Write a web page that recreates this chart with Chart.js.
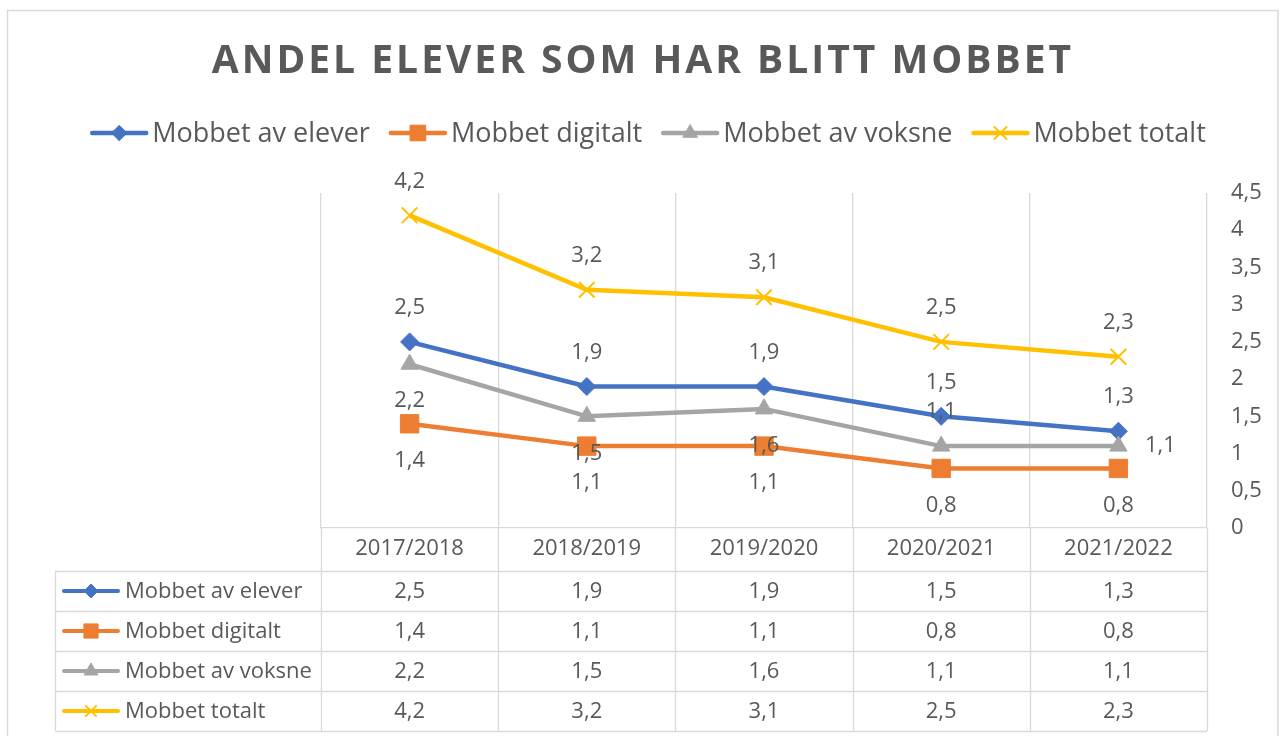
<!DOCTYPE html>
<html>
<head>
<meta charset="utf-8">
<script src="https://cdn.jsdelivr.net/npm/chart.js@4.4.0/dist/chart.umd.min.js"></script>
<style>
  html, body { margin: 0; padding: 0; background: #fff; }
  #wrap { position: relative; width: 1280px; height: 736px; }
</style>
</head>
<body>
<div id="wrap"><canvas id="chart" width="1280" height="736"></canvas></div>
<script>
// Data
const chartTitle = 'ANDEL ELEVER SOM HAR BLITT MOBBET';
const categories = ['2017/2018', '2018/2019', '2019/2020', '2020/2021', '2021/2022'];
const seriesNames = ['Mobbet av elever', 'Mobbet digitalt', 'Mobbet av voksne', 'Mobbet totalt'];
const mobbetAvElever = [2.5, 1.9, 1.9, 1.5, 1.3];
const mobbetDigitalt = [1.4, 1.1, 1.1, 0.8, 0.8];
const mobbetAvVoksne = [2.2, 1.5, 1.6, 1.1, 1.1];
const mobbetTotalt = [4.2, 3.2, 3.1, 2.5, 2.3];

// Styles
const FONT = '"Open Sans", "Liberation Sans", sans-serif';
const TEXT = '#595959';
const GRID = '#d9d9d9';
const colors = ['#4472C4', '#ED7D31', '#A5A5A5', '#FFC000'];
const markers = ['rectRot', 'rect', 'triangle', 'crossRot'];
const markerRadius = [9, 13, 10, 11];
const smallRadius = [7, 10, 8, 8];
// where each data label sits relative to its point
const labelPos = [
    ['above', 'above', 'above', 'above', 'above'],
    ['below', 'below', 'below', 'below', 'below'],
    ['below', 'below', 'below', 'above', 'right'],
    ['above', 'above', 'above', 'above', 'above']
];

const fmt = v => String(v).replace('.', ',');
const allSeries = [mobbetAvElever, mobbetDigitalt, mobbetAvVoksne, mobbetTotalt];

function drawMarker(ctx, i, x, y, radius) {
    ctx.save();
    ctx.fillStyle = colors[i];
    ctx.strokeStyle = colors[i];
    ctx.lineWidth = markers[i] === 'crossRot' ? 2 : 1;
    Chart.helpers.drawPoint(ctx, { pointStyle: markers[i], radius: radius, rotation: 0, borderWidth: ctx.lineWidth }, x, y);
    ctx.restore();
}

function drawLegendIcon(ctx, i, x, y, w, lw, r) {
    ctx.save();
    ctx.strokeStyle = colors[i];
    ctx.lineWidth = lw;
    ctx.lineCap = 'round';
    ctx.beginPath();
    ctx.moveTo(x + 2, y);
    ctx.lineTo(x + w - 2, y);
    ctx.stroke();
    ctx.restore();
    drawMarker(ctx, i, x + w / 2, y, r);
}

const decorPlugin = {
    id: 'decor',
    beforeDraw(chart) {
        const ctx = chart.ctx;
        ctx.save();
        ctx.fillStyle = '#fff';
        ctx.fillRect(0, 0, chart.width, chart.height);
        ctx.strokeStyle = GRID;
        ctx.lineWidth = 1.5;
        ctx.strokeRect(7.5, 10.5, 1270.5, 740);
        ctx.restore();
    },
    afterDatasetsDraw(chart) {
        const ctx = chart.ctx;
        ctx.save();
        ctx.font = '22px ' + FONT;
        ctx.fillStyle = TEXT;
        ctx.textAlign = 'center';
        ctx.textBaseline = 'middle';
        chart.data.datasets.forEach((ds, i) => {
            const meta = chart.getDatasetMeta(i);
            meta.data.forEach((pt, j) => {
                const pos = labelPos[i][j];
                let x = pt.x, y = pt.y;
                if (pos === 'above') y -= 34;
                else if (pos === 'below') y += 37;
                else if (pos === 'right') x += 42;
                ctx.fillText(fmt(ds.data[j]), x, y);
            });
        });
        ctx.restore();
    },
    afterDraw(chart) {
        const ctx = chart.ctx;
        const area = chart.chartArea;
        const xs = chart.scales.x;

        // title
        ctx.save();
        ctx.font = 'bold 39px ' + FONT;
        ctx.fillStyle = TEXT;
        ctx.textBaseline = 'middle';
        ctx.letterSpacing = '3px';
        const tw = ctx.measureText(chartTitle).width;
        ctx.textAlign = 'left';
        ctx.fillText(chartTitle, 643 - tw / 2, 62);
        ctx.restore();

        // legend
        ctx.save();
        ctx.font = '27px ' + FONT;
        ctx.fillStyle = TEXT;
        ctx.textBaseline = 'middle';
        const lineW = 58, gapText = 4, gapItem = 19;
        const widths = seriesNames.map(n => ctx.measureText(n).width);
        const total = widths.reduce((a, b) => a + b, 0) + seriesNames.length * (lineW + gapText) + gapItem * (seriesNames.length - 1);
        let lx = 648 - total / 2;
        const ly = 133;
        seriesNames.forEach((n, i) => {
            drawLegendIcon(ctx, i, lx, ly, lineW, 4.5, markerRadius[i] * 0.85);
            ctx.fillStyle = TEXT;
            ctx.fillText(n, lx + lineW + gapText, ly + 1);
            lx += lineW + gapText + widths[i] + gapItem;
        });
        ctx.restore();

        // data table
        const rowTop = 571, rowH = 40, tableLeft = 55.5;
        const step = (area.right - area.left) / categories.length;
        const tableBottom = rowTop + rowH * allSeries.length;
        ctx.save();
        ctx.strokeStyle = GRID;
        ctx.lineWidth = 1.3;
        ctx.beginPath();
        for (let c = 0; c <= categories.length; c++) {
            const x = Math.round(area.left + c * step) + 0.5;
            ctx.moveTo(x, area.bottom);
            ctx.lineTo(x, tableBottom);
        }
        ctx.moveTo(tableLeft, rowTop);
        ctx.lineTo(tableLeft, tableBottom);
        for (let r = 0; r <= allSeries.length; r++) {
            const y = rowTop + r * rowH + 0.5;
            ctx.moveTo(tableLeft, y);
            ctx.lineTo(area.right, y);
        }
        ctx.stroke();

        ctx.font = '22px ' + FONT;
        ctx.fillStyle = TEXT;
        ctx.textBaseline = 'middle';
        allSeries.forEach((vals, r) => {
            const cy = rowTop + r * rowH + rowH / 2;
            drawLegendIcon(ctx, r, 62, cy, 58, 4, smallRadius[r]);
            ctx.fillStyle = TEXT;
            ctx.textAlign = 'left';
            ctx.fillText(seriesNames[r], 125, cy + 1);
            ctx.textAlign = 'center';
            vals.forEach((v, c) => {
                ctx.fillText(fmt(v), xs.getPixelForValue(c), cy + 1);
            });
        });
        ctx.restore();
    }
};

const ctx = document.getElementById('chart').getContext('2d');
new Chart(ctx, {
    type: 'line',
    data: {
        labels: categories,
        datasets: allSeries.map((d, i) => ({
            label: seriesNames[i],
            data: d,
            borderColor: colors[i],
            backgroundColor: colors[i],
            borderWidth: 4.5,
            pointStyle: markers[i],
            pointRadius: markerRadius[i],
            pointHoverRadius: markerRadius[i],
            pointBorderWidth: i === 3 ? 2 : 1,
            tension: 0,
            order: 3 - i
        }))
    },
    options: {
        responsive: false,
        animation: false,
        layout: { padding: { top: 193, left: 321, right: 0, bottom: 166 } },
        plugins: {
            legend: { display: false },
            title: { display: false },
            tooltip: { enabled: false }
        },
        scales: {
            x: {
                offset: true,
                grid: { offset: true, color: GRID, lineWidth: 1.3, drawTicks: false },
                border: { color: GRID, width: 1.3 },
                ticks: { color: TEXT, font: { family: FONT, size: 22 }, padding: 8, maxRotation: 0 },
                afterFit(scale) { scale.height = 42; }
            },
            y: {
                position: 'right',
                min: 0,
                max: 4.5,
                grid: { display: false, drawTicks: false },
                border: { display: false },
                ticks: { stepSize: 0.5, color: TEXT, font: { family: FONT, size: 22 }, padding: 24, callback: v => fmt(v) },
                afterFit(scale) { scale.width = 73; }
            }
        }
    },
    plugins: [decorPlugin]
});
</script>
</body>
</html>
